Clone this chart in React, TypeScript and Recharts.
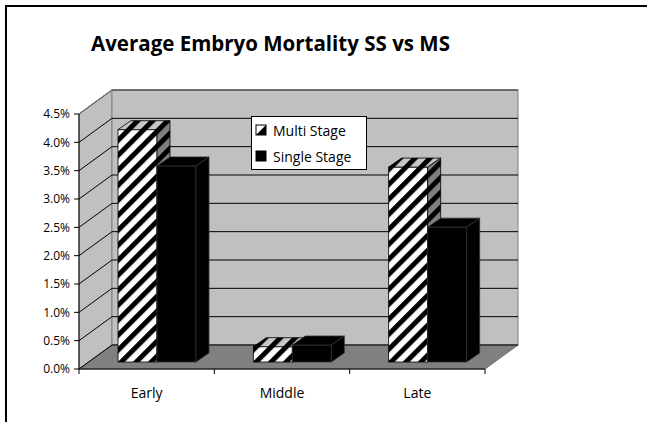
import React from 'react';
import { BarChart, Bar, XAxis, YAxis, CartesianGrid, ReferenceArea, Legend } from 'recharts';

const stages = ['Early', 'Middle', 'Late'];
const multiStage = [4.1, 0.27, 3.44];
const singleStage = [3.46, 0.3, 2.38];
const yTicks = [0, 0.5, 1, 1.5, 2, 2.5, 3, 3.5, 4, 4.5];

const data = stages.map((stage, i) => ({ stage, multi: multiStage[i], single: singleStage[i] }));

const FONT = '"Comic Sans MS", "Open Sans", sans-serif';

// 3D look: wall depth, bar offset into the floor, bar depth
const DX = 33, DY = -24;
const OX = 10, OY = -7;
const BX = 13, BY = -9;

function Walls(props: any) {
  const { x, y, width, height } = props;
  const x2 = x + width;
  const yb = y + height;
  return (
    <g>
      <polygon points={`${x},${y} ${x + DX},${y + DY} ${x + DX},${yb + DY} ${x},${yb}`} fill="#c0c0c0" stroke="#808080" />
      <rect x={x + DX} y={y + DY} width={width} height={height} fill="#c0c0c0" stroke="#808080" />
      <polygon points={`${x},${yb} ${x2},${yb} ${x2 + DX},${yb + DY} ${x + DX},${yb + DY}`} fill="#808080" stroke="#707070" />
    </g>
  );
}

// grey top edges of the walls, laid over the grid
function WallEdges(props: any) {
  const { x, y, width } = props;
  return (
    <g fill="none" stroke="#808080" strokeWidth={1.2}>
      <polyline points={`${x},${y} ${x + DX},${y + DY} ${x + width + DX},${y + DY}`} />
    </g>
  );
}

function gridLine(p: any) {
  const { x1, y1, x2 } = p;
  return (
    <g key={p.key ?? `g-${y1}`}>
      <line x1={x1} y1={y1} x2={x1 + DX} y2={y1 + DY} stroke="#000" strokeWidth={1} />
      <line x1={x1 + DX} y1={y1 + DY} x2={x2 + DX} y2={y1 + DY} stroke="#000" strokeWidth={1} />
    </g>
  );
}

function box(props: any, front: string, top: string, side: string, stroke: string) {
  const { x, y, width: w, height: h } = props;
  if (h == null || isNaN(h)) return <g />;
  const fx = x + OX;
  const fy = y + OY;
  return (
    <g>
      <rect x={fx} y={fy} width={w} height={h} fill={front} stroke={stroke} strokeWidth={0.8} />
      <polygon points={`${fx},${fy} ${fx + w},${fy} ${fx + w + BX},${fy + BY} ${fx + BX},${fy + BY}`} fill={top} stroke={stroke} strokeWidth={0.8} />
      <polygon points={`${fx + w},${fy} ${fx + w + BX},${fy + BY} ${fx + w + BX},${fy + BY + h} ${fx + w},${fy + h}`} fill={side} stroke={stroke} strokeWidth={0.8} />
    </g>
  );
}

const MultiBar = (props: any) => box(props, 'url(#hatchFront)', 'url(#hatchTop)', 'url(#hatchSide)', '#000');
const SingleBar = (props: any) => box(props, '#000', '#000', '#000', '#333');

function XTick(props: any) {
  const { x, y, payload } = props;
  const off = payload?.offset ?? 67.7;
  const last = payload?.index === stages.length - 1;
  return (
    <g>
      <line x1={x - off} y1={y} x2={x - off} y2={y + 5} stroke="#000" />
      {last && <line x1={x + off} y1={y} x2={x + off} y2={y + 5} stroke="#000" />}
      <text x={x} y={y + 29} textAnchor="middle" fontSize={14} fontFamily={FONT} fill="#000">
        {payload.value}
      </text>
    </g>
  );
}

function LegendBox(props: any) {
  const items = props.payload || [];
  return (
    <div style={{ width: 114, height: 52, background: '#fff', border: '1px solid #000', fontFamily: FONT, fontSize: 14, color: '#000' }}>
      {items.map((it: any, i: number) => (
        <div key={i} style={{ display: 'flex', alignItems: 'center', height: 26, paddingLeft: 3 }}>
          <svg width={12} height={12} style={{ marginRight: 6 }}>
            {i === 0 ? (
              <g>
                <rect x={1} y={1} width={10} height={10} fill="#fff" stroke="#000" />
                <polygon points="11,1 11,11 1,11" fill="#000" />
              </g>
            ) : (
              <rect x={1} y={1} width={10} height={10} fill="#000" stroke="#000" />
            )}
          </svg>
          <span>{it.value}</span>
        </div>
      ))}
    </div>
  );
}

export default function App() {
  return (
    <div style={{ position: 'absolute', left: 0, top: 0, width: 647, height: 422, background: '#fff' }}>
      <BarChart
        width={647}
        height={422}
        data={data}
        margin={{ top: 114, right: 162, bottom: 23, left: 0 }}
        barSize={39}
        barGap={0}
      >
        <defs>
          <pattern id="hatchFront" patternUnits="userSpaceOnUse" width={10.6} height={10.6} patternTransform="rotate(45)">
            <rect width={10.6} height={10.6} fill="#fff" />
            <rect width={5} height={10.6} fill="#000" />
          </pattern>
          <pattern id="hatchTop" patternUnits="userSpaceOnUse" width={10.6} height={10.6} patternTransform="rotate(45)">
            <rect width={10.6} height={10.6} fill="#c8c8c8" />
            <rect width={5} height={10.6} fill="#000" />
          </pattern>
          <pattern id="hatchSide" patternUnits="userSpaceOnUse" width={10.6} height={10.6} patternTransform="rotate(45)">
            <rect width={10.6} height={10.6} fill="#808080" />
            <rect width={5} height={10.6} fill="#000" />
          </pattern>
        </defs>
        <ReferenceArea y1={0} y2={4.5} shape={Walls} zIndex={-200} ifOverflow="visible" />
        <CartesianGrid vertical={false} horizontal={gridLine} />
        <ReferenceArea y1={0} y2={4.5} shape={WallEdges} zIndex={-90} ifOverflow="visible" />
        <XAxis
          dataKey="stage"
          height={30}
          tickSize={0}
          tickMargin={0}
          tickLine={false}
          axisLine={{ stroke: '#000' }}
          tick={<XTick />}
          interval={0}
        />
        <YAxis
          domain={[0, 4.5]}
          ticks={yTicks}
          width={79}
          tickSize={5}
          tickMargin={4}
          interval={0}
          allowDataOverflow
          axisLine={{ stroke: '#000' }}
          tickLine={{ stroke: '#000' }}
          tick={{ fill: '#000', fontSize: 12, fontFamily: FONT }}
          tickFormatter={(v: number) => `${v.toFixed(1)}%`}
        />
        <Bar dataKey="multi" name="Multi Stage" fill="#fff" shape={MultiBar} isAnimationActive={false} />
        <Bar dataKey="single" name="Single Stage" fill="#000" shape={SingleBar} isAnimationActive={false} />
        <Legend
          layout="vertical"
          align="center"
          verticalAlign="middle"
          content={<LegendBox />}
          wrapperStyle={{ left: 251, top: 116, width: 116, height: 54 }}
        />
      </BarChart>
      <div style={{ position: 'absolute', left: 5, top: 5, width: 642, height: 415, borderLeft: '2px solid #000', borderTop: '2px solid #000', borderBottom: '1px solid #999', pointerEvents: 'none' }} />
      <div style={{ position: 'absolute', left: 0, top: 31, width: 541, textAlign: 'center', fontFamily: FONT, fontSize: 20.5, fontWeight: 700, lineHeight: '24px', color: '#000' }}>
        Average Embryo Mortality SS vs MS
      </div>
    </div>
  );
}
